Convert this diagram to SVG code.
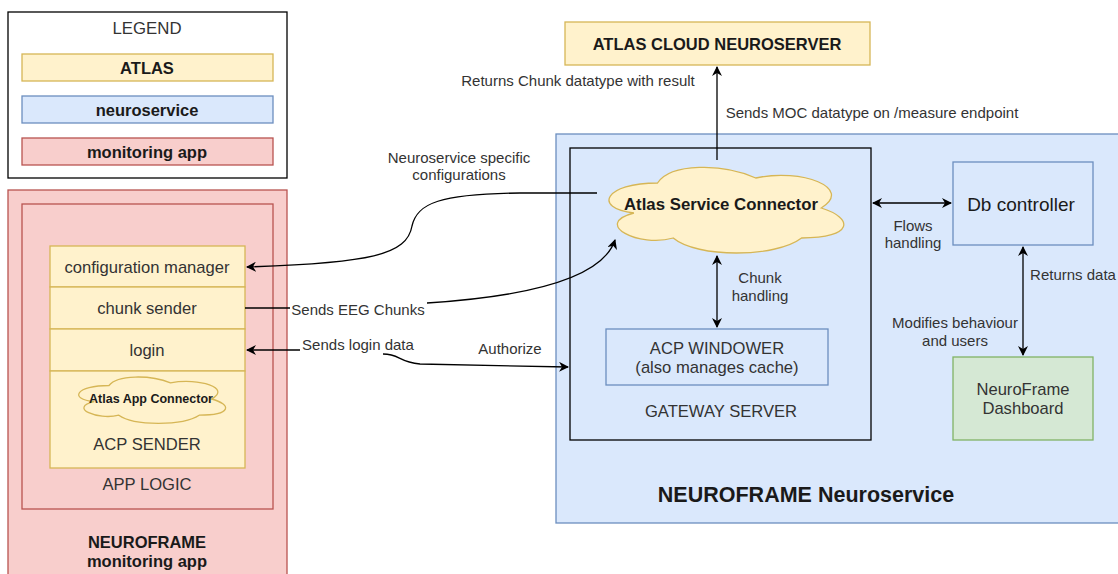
<svg xmlns="http://www.w3.org/2000/svg" width="1118" height="574" viewBox="0 0 1118 574">
<defs>
<style>
text{font-family:"Liberation Sans",Arial,sans-serif;fill:#333;text-anchor:middle;dominant-baseline:central}
.b{font-weight:bold;fill:#1a1a1a}
.yel{fill:#fff2cc;stroke:#d6b656;stroke-width:1.3}
.blu{fill:#dae8fc;stroke:#6c8ebf;stroke-width:1.3}
.red{fill:#f8cecc;stroke:#b85450;stroke-width:1.3}
.grn{fill:#d5e8d4;stroke:#82b366;stroke-width:1.3}
.blk{fill:none;stroke:#000;stroke-width:1.3}
.e{fill:none;stroke:#000;stroke-width:1.3}
.lbl{font-size:15px}
.n{font-size:16.6px}
</style>
<marker id="ah" viewBox="0 0 10 10" refX="9" refY="5" markerWidth="10" markerHeight="10" markerUnits="userSpaceOnUse" orient="auto-start-reverse">
<path d="M0 0 L10 5 L0 10 L3 5 Z" fill="#000"/>
</marker>
</defs>

<g id="legend">
<rect x="8" y="12" width="279" height="166" fill="#fff" stroke="#000" stroke-width="1.3"/>
<text x="147" y="28" font-size="16.8">LEGEND</text>
<rect class="yel" x="22" y="54" width="251" height="27"/>
<text class="b" x="147" y="68" font-size="16.5">ATLAS</text>
<rect class="blu" x="22" y="96" width="251" height="27"/>
<text class="b" x="147" y="110" font-size="16.5">neuroservice</text>
<rect class="red" x="22" y="138" width="251" height="27"/>
<text class="b" x="147" y="152" font-size="16.5">monitoring app</text>
</g>

<g id="monitoring-app">
<rect class="red" x="8" y="190" width="279" height="400"/>
<text class="b" x="147" y="542" font-size="16.5">NEUROFRAME</text>
<text class="b" x="147" y="561" font-size="16.5">monitoring app</text>
</g>
<g id="app-logic">
<rect class="red" x="22" y="204" width="251" height="305"/>
<text class="n" x="147" y="484">APP LOGIC</text>
</g>
<g id="configuration-manager">
<rect class="yel" x="50" y="246" width="195" height="41"/>
<text class="n" x="147" y="267">configuration manager</text>
</g>
<g id="chunk-sender">
<rect class="yel" x="50" y="287" width="195" height="42"/>
<text class="n" x="147" y="308">chunk sender</text>
</g>
<g id="login">
<rect class="yel" x="50" y="329" width="195" height="42"/>
<text class="n" x="147" y="350">login</text>
</g>
<g id="acp-sender">
<rect class="yel" x="50" y="371" width="195" height="97"/>
<text class="n" x="147" y="444">ACP SENDER</text>
</g>
<g id="atlas-app-connector">
<path class="yel" transform="translate(68,372) scale(164,54)" vector-effect="non-scaling-stroke" d="M0.25 0.25 C0.05 0.25 0 0.5 0.16 0.55 C0 0.66 0.18 0.9 0.31 0.8 C0.4 1 0.7 1 0.8 0.8 C1 0.8 1 0.6 0.875 0.5 C1 0.3 0.8 0.1 0.625 0.2 C0.5 0.05 0.3 0.05 0.25 0.25 Z"/>
<text class="b" x="151" y="399" font-size="12.5">Atlas App Connector</text>
</g>

<g id="atlas-cloud-neuroserver">
<rect class="yel" x="565" y="22" width="305" height="43"/>
<text class="b" x="717" y="44" font-size="16.5">ATLAS CLOUD NEUROSERVER</text>
</g>

<g id="neuroframe-neuroservice">
<rect class="blu" x="556" y="134" width="570" height="389"/>
<text class="b" x="806" y="495" font-size="21.5">NEUROFRAME Neuroservice</text>
</g>
<g id="gateway-server">
<rect class="blk" x="570" y="148" width="301" height="292"/>
<text class="n" x="721" y="411">GATEWAY SERVER</text>
</g>
<g id="acp-windower">
<rect class="blu" x="606" y="329" width="222" height="56"/>
<text class="n" x="717" y="348">ACP WINDOWER</text>
<text class="n" x="717" y="367">(also manages cache)</text>
</g>
<g id="db-controller">
<rect class="blu" x="953" y="162" width="140" height="83"/>
<text x="1021" y="204" font-size="19" style="fill:#1a1a1a">Db controller</text>
</g>
<g id="neuroframe-dashboard">
<rect class="grn" x="953" y="357" width="140" height="83"/>
<text class="n" x="1023" y="389">NeuroFrame</text>
<text class="n" x="1023" y="408">Dashboard</text>
</g>

<g id="connectors">
<path class="e" d="M717 160 L717 67" marker-end="url(#ah)"/>
<path class="e" d="M717 256 L717 327" marker-start="url(#ah)" marker-end="url(#ah)"/>
<path class="e" d="M873 203 L951 203" marker-start="url(#ah)" marker-end="url(#ah)"/>
<path class="e" d="M1023 247 L1023 355" marker-start="url(#ah)" marker-end="url(#ah)"/>
<path class="e" d="M597 193 L520 193 C440 194 417 203 412 226 C407 255 370 263 247 267" marker-end="url(#ah)"/>
<path class="e" d="M245 308 L290 308"/>
<path class="e" d="M427 303 C520 297 602 280 615 240" marker-end="url(#ah)"/>
<path class="e" d="M300 350 L247 350" marker-end="url(#ah)"/>
<path class="e" d="M383 354 C400 354 398 362 420 364 L568 367" marker-end="url(#ah)"/>
</g>

<g id="atlas-service-connector">
<path class="yel" transform="translate(592,158) scale(262,100)" vector-effect="non-scaling-stroke" d="M0.25 0.25 C0.05 0.25 0 0.5 0.16 0.55 C0 0.66 0.18 0.9 0.31 0.8 C0.4 1 0.7 1 0.8 0.8 C1 0.8 1 0.6 0.875 0.5 C1 0.3 0.8 0.1 0.625 0.2 C0.5 0.05 0.3 0.05 0.25 0.25 Z"/>
<text class="b" x="721" y="204" font-size="16.8">Atlas Service Connector</text>
</g>

<g id="labels">
<text class="lbl" x="578" y="80">Returns Chunk datatype with result</text>
<text class="lbl" x="872" y="112">Sends MOC datatype on /measure endpoint</text>
<text class="lbl" x="459" y="157">Neuroservice specific</text>
<text class="lbl" x="459" y="174">configurations</text>
<text class="lbl" x="358" y="309">Sends EEG Chunks</text>
<text class="lbl" x="358" y="344">Sends login data</text>
<text class="lbl" x="510" y="348">Authorize</text>
<text class="lbl" x="760" y="277">Chunk</text>
<text class="lbl" x="760" y="295">handling</text>
<text class="lbl" x="913" y="225">Flows</text>
<text class="lbl" x="913" y="242">handling</text>
<text class="lbl" x="1073" y="274">Returns data</text>
<text class="lbl" x="955" y="322">Modifies behaviour</text>
<text class="lbl" x="955" y="340">and users</text>
</g>
</svg>
